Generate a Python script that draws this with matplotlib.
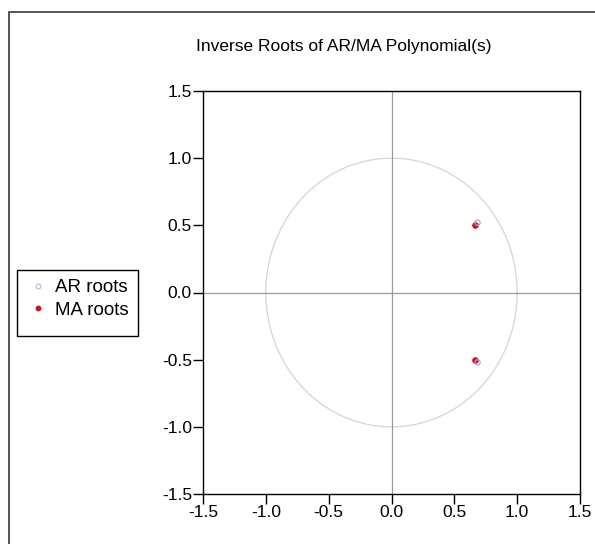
import numpy as np
import matplotlib
matplotlib.use("Agg")
import matplotlib.pyplot as plt
from matplotlib.patches import Rectangle
from matplotlib.lines import Line2D

plt.rcParams['font.family'] = ['Liberation Sans', 'DejaVu Sans']

ar_real = [0.685, 0.685]
ar_imag = [0.52, -0.52]
ma_real = [0.665, 0.665]
ma_imag = [0.505, -0.50]
ticks = [-1.5, -1.0, -0.5, 0.0, 0.5, 1.0, 1.5]
tick_labels = ['-1.5', '-1.0', '-0.5', '0.0', '0.5', '1.0', '1.5']
title = 'Inverse Roots of AR/MA Polynomial(s)'
legend_labels = ['AR roots', 'MA roots']

W, H = 595, 544
fig = plt.figure(figsize=(W / 100, H / 100), dpi=100)

# outer frame
fig.add_artist(Rectangle((9 / W, -0.1), 1.2, 1 - 12 / H + 0.1, transform=fig.transFigure,
                         fill=False, edgecolor='#555555', linewidth=1.4))

ax = fig.add_axes([203 / W, (H - 494) / H, 377 / W, 403 / H])
theta = np.linspace(0, 2 * np.pi, 400)
ax.plot(np.cos(theta), np.sin(theta), color='#d4d4d4', linewidth=0.9, zorder=1)
ax.axhline(0, color='#9a9a9a', linewidth=0.9, zorder=1)
ax.axvline(0, color='#9a9a9a', linewidth=0.9, zorder=1)
ax.scatter(ma_real, ma_imag, s=14, color='#d0101a', zorder=3)
ax.scatter(ar_real, ar_imag, s=14, facecolors='none', edgecolors='#9fa8e0', linewidths=0.9, zorder=4)

ax.set_xlim(-1.5, 1.5)
ax.set_ylim(-1.5, 1.5)
ax.set_xticks(ticks)
ax.set_xticklabels(tick_labels)
ax.set_yticks(ticks)
ax.set_yticklabels(tick_labels)
ax.tick_params(direction='out', length=7, width=1, labelsize=12.5, colors='black', pad=1)
for s in ax.spines.values():
    s.set_linewidth(1.0)
    s.set_color('black')

fig.text(344 / W, 1 - 47 / H, title, ha='center', va='center', fontsize=12.5)

# legend frame
fig.add_artist(Rectangle((17 / W, 1 - 336 / H), 121 / W, 66 / H, transform=fig.transFigure,
                         fill=True, facecolor='white', edgecolor='black', linewidth=1.0, zorder=5))
handles = [
    Line2D([], [], linestyle='none', marker='o', markersize=3.5, markerfacecolor='none',
           markeredgecolor='#b0b6e6', markeredgewidth=0.8),
    Line2D([], [], linestyle='none', marker='o', markersize=3.2, markerfacecolor='#d0101a',
           markeredgecolor='#d0101a'),
]
leg = fig.legend(handles, legend_labels, loc='upper left',
                 bbox_to_anchor=(30.5 / W, 1 - 279 / H), borderaxespad=0, frameon=False,
                 fontsize=13.5, handlelength=0.8, handletextpad=0.5, borderpad=0,
                 labelspacing=0.3)
leg.set_zorder(6)

fig.savefig('out.png', dpi=100)
